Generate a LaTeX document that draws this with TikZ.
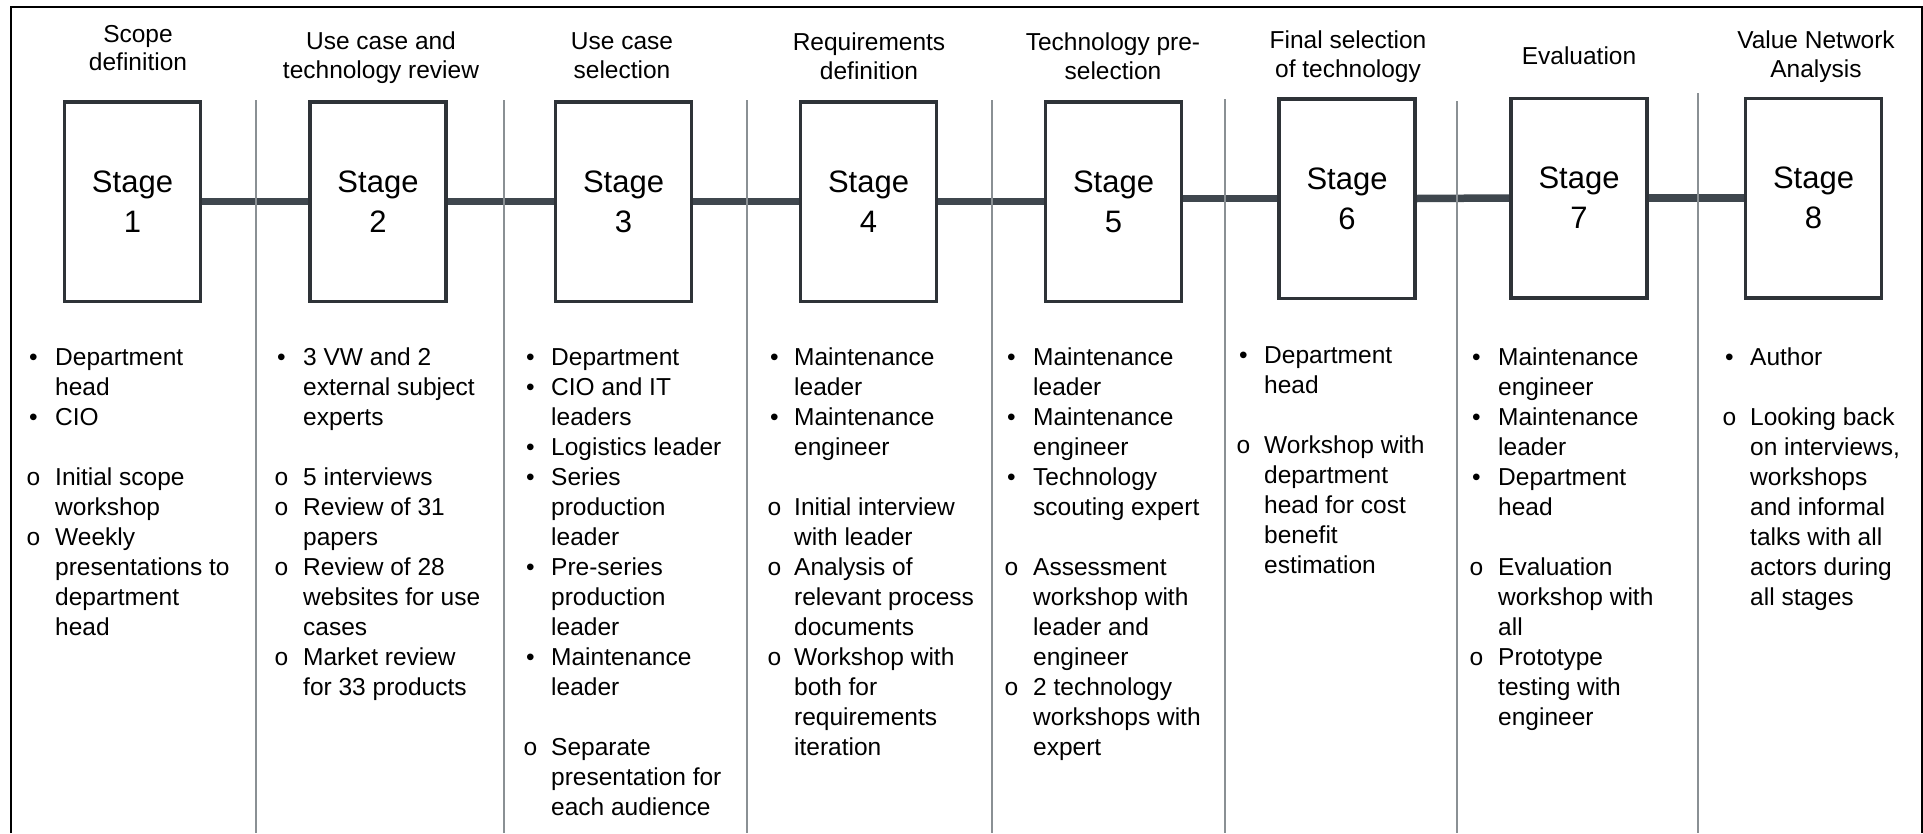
\documentclass[tikz,border=0pt]{standalone}
\usepackage{fontspec}
\setmainfont{Liberation Sans}
\newfontfamily\monofont{Liberation Mono}
\usetikzlibrary{backgrounds}
\definecolor{boxline}{HTML}{2E3338}
\definecolor{linkline}{HTML}{3F474E}
\definecolor{sepline}{HTML}{8A9094}
% left-aligned block whose reference point is the first baseline
\newcommand\stack[1]{\begin{tabular}[t]{@{}l@{}}#1\end{tabular}}
\begin{document}
\begin{tikzpicture}[x=1pt,y=-1pt,
  stagebox/.style={draw=boxline,line width=3.5pt,fill=white,minimum width=136pt,minimum height=199.5pt,
    inner sep=0pt,align=center,font=\fontsize{31}{40}\selectfont},
  link/.style={draw=linkline,line width=7.5pt},
  sep/.style={draw=sepline,line width=1.5pt},
  head/.style={anchor=base,inner sep=0pt,font=\fontsize{24.5}{29}\selectfont},
  txt/.style={anchor=base west,inner sep=0pt,font=\fontsize{24.5}{30}\selectfont},
  dot/.style={anchor=base west,inner sep=0pt,font=\fontsize{24.5}{30}\selectfont},
  ring/.style={anchor=base west,inner sep=0pt,font=\monofont\fontsize{24.5}{30}\selectfont}]
\useasboundingbox (0,0) rectangle (1923,833);

% open frame (no bottom edge)
\draw[black,line width=2pt] (11,833) -- (11,6.5) -- (1921.5,6.5) -- (1921.5,833);

% stage boxes
\node[stagebox] (s1) at (132.5,201.5) {Stage\\1};
\node[stagebox] (s2) at (378,201.5) {Stage\\2};
\node[stagebox] (s3) at (623.5,201.5) {Stage\\3};
\node[stagebox] (s4) at (868.5,201.5) {Stage\\4};
\node[stagebox] (s5) at (1113.5,201.5) {Stage\\5};
\node[stagebox] (s6) at (1347,198.5) {Stage\\6};
\node[stagebox] (s7) at (1579,198) {Stage\\7};
\node[stagebox] (s8) at (1813.5,198) {Stage\\8};

% connecting bar between stages, behind the boxes
\begin{scope}[on background layer]
\draw[link] (s1.east) -- (s2.west);
\draw[link] (s2.east) -- (s3.west);
\draw[link] (s3.east) -- (s4.west);
\draw[link] (s4.east) -- (s5.west);
\draw[link] (s5.east |- s6.west) -- (s6.west);
\draw[link] (s6.east) -- (s7.west);
\draw[link] (s7.east) -- (s8.west);
\end{scope}

% column separators
\coordinate (c1) at (256,100);  \draw[sep] (c1) -- (256,833);
\coordinate (c2) at (504,100);  \draw[sep] (c2) -- (504,833);
\coordinate (c3) at (747,100);  \draw[sep] (c3) -- (747,833);
\coordinate (c4) at (992,100);  \draw[sep] (c4) -- (992,833);
\coordinate (c5) at (1225,99);  \draw[sep] (c5) -- (1225,833);
\coordinate (c6) at (1457,101); \draw[sep] (c6) -- (1457,833);
\coordinate (c7) at (1698,93);  \draw[sep] (c7) -- (1698,833);

% stage titles
\node[head] (h1a) at (138,42) {Scope};
\node[head] (h1b) at (138,70) {definition};
\node[head] (h2a) at (381,49) {Use case and};
\node[head] (h2b) at (381,78) {technology review};
\node[head] (h3a) at (622,49) {Use case};
\node[head] (h3b) at (622,78) {selection};
\node[head] (h4a) at (869,50) {Requirements};
\node[head] (h4b) at (869,79) {definition};
\node[head] (h5a) at (1113,50) {Technology pre-};
\node[head] (h5b) at (1113,79) {selection};
\node[head] (h6a) at (1348,48) {Final selection};
\node[head] (h6b) at (1348,77) {of technology};
\node[head] (h7a) at (1579,64) {Evaluation};
\node[head] (h8a) at (1816,48) {Value Network};
\node[head] (h8b) at (1816,77) {Analysis};

% column 1
\node[dot] at (29,365) {•};  \node[txt] (t1a) at (55,365) {\stack{Department\\head}};
\node[dot] at (29,425) {•};  \node[txt] (t1b) at (55,425) {CIO};
\node[ring] at (26,485) {o}; \node[txt] (t1c) at (55,485) {\stack{Initial scope\\workshop}};
\node[ring] at (26,545) {o}; \node[txt] (t1d) at (55,545) {\stack{Weekly\\presentations to\\department\\head}};

% column 2
\node[dot] at (277,365) {•};  \node[txt] (t2a) at (303,365) {\stack{3 VW and 2\\external subject\\experts}};
\node[ring] at (274,485) {o}; \node[txt] (t2b) at (303,485) {5 interviews};
\node[ring] at (274,515) {o}; \node[txt] (t2c) at (303,515) {\stack{Review of 31\\papers}};
\node[ring] at (274,575) {o}; \node[txt] (t2d) at (303,575) {\stack{Review of 28\\websites for use\\cases}};
\node[ring] at (274,665) {o}; \node[txt] (t2e) at (303,665) {\stack{Market review\\for 33 products}};

% column 3
\node[dot] at (526,365) {•};  \node[txt] (t3a) at (551,365) {Department};
\node[dot] at (526,395) {•};  \node[txt] (t3b) at (551,395) {\stack{CIO and IT\\leaders}};
\node[dot] at (526,455) {•};  \node[txt] (t3c) at (551,455) {Logistics leader};
\node[dot] at (526,485) {•};  \node[txt] (t3d) at (551,485) {\stack{Series\\production\\leader}};
\node[dot] at (526,575) {•};  \node[txt] (t3e) at (551,575) {\stack{Pre-series\\production\\leader}};
\node[dot] at (526,665) {•};  \node[txt] (t3f) at (551,665) {\stack{Maintenance\\leader}};
\node[ring] at (523,755) {o}; \node[txt] (t3g) at (551,755) {\stack{Separate\\presentation for\\each audience}};

% column 4
\node[dot] at (770,365) {•};  \node[txt] (t4a) at (794,365) {\stack{Maintenance\\leader}};
\node[dot] at (770,425) {•};  \node[txt] (t4b) at (794,425) {\stack{Maintenance\\engineer}};
\node[ring] at (767,515) {o}; \node[txt] (t4c) at (794,515) {\stack{Initial interview\\with leader}};
\node[ring] at (767,575) {o}; \node[txt] (t4d) at (794,575) {\stack{Analysis of\\relevant process\\documents}};
\node[ring] at (767,665) {o}; \node[txt] (t4e) at (794,665) {\stack{Workshop with\\both for\\requirements\\iteration}};

% column 5
\node[dot] at (1007,365) {•};  \node[txt] (t5a) at (1033,365) {\stack{Maintenance\\leader}};
\node[dot] at (1007,425) {•};  \node[txt] (t5b) at (1033,425) {\stack{Maintenance\\engineer}};
\node[dot] at (1007,485) {•};  \node[txt] (t5c) at (1033,485) {\stack{Technology\\scouting expert}};
\node[ring] at (1004,575) {o}; \node[txt] (t5d) at (1033,575) {\stack{Assessment\\workshop with\\leader and\\engineer}};
\node[ring] at (1004,695) {o}; \node[txt] (t5e) at (1033,695) {\stack{2 technology\\workshops with\\expert}};

% column 6
\node[dot] at (1239,363) {•};  \node[txt] (t6a) at (1264,363) {\stack{Department\\head}};
\node[ring] at (1236,453) {o}; \node[txt] (t6b) at (1264,453) {\stack{Workshop with\\department\\head for cost\\benefit\\estimation}};

% column 7
\node[dot] at (1472,365) {•};  \node[txt] (t7a) at (1498,365) {\stack{Maintenance\\engineer}};
\node[dot] at (1472,425) {•};  \node[txt] (t7b) at (1498,425) {\stack{Maintenance\\leader}};
\node[dot] at (1472,485) {•};  \node[txt] (t7c) at (1498,485) {\stack{Department\\head}};
\node[ring] at (1469,575) {o}; \node[txt] (t7d) at (1498,575) {\stack{Evaluation\\workshop with\\all}};
\node[ring] at (1469,665) {o}; \node[txt] (t7e) at (1498,665) {\stack{Prototype\\testing with\\engineer}};

% column 8
\node[dot] at (1725,365) {•};  \node[txt] (t8a) at (1750,365) {Author};
\node[ring] at (1722,425) {o}; \node[txt] (t8b) at (1750,425) {\stack{Looking back\\on interviews,\\workshops\\and informal\\talks with all\\actors during\\all stages}};
\end{tikzpicture}
\end{document}
